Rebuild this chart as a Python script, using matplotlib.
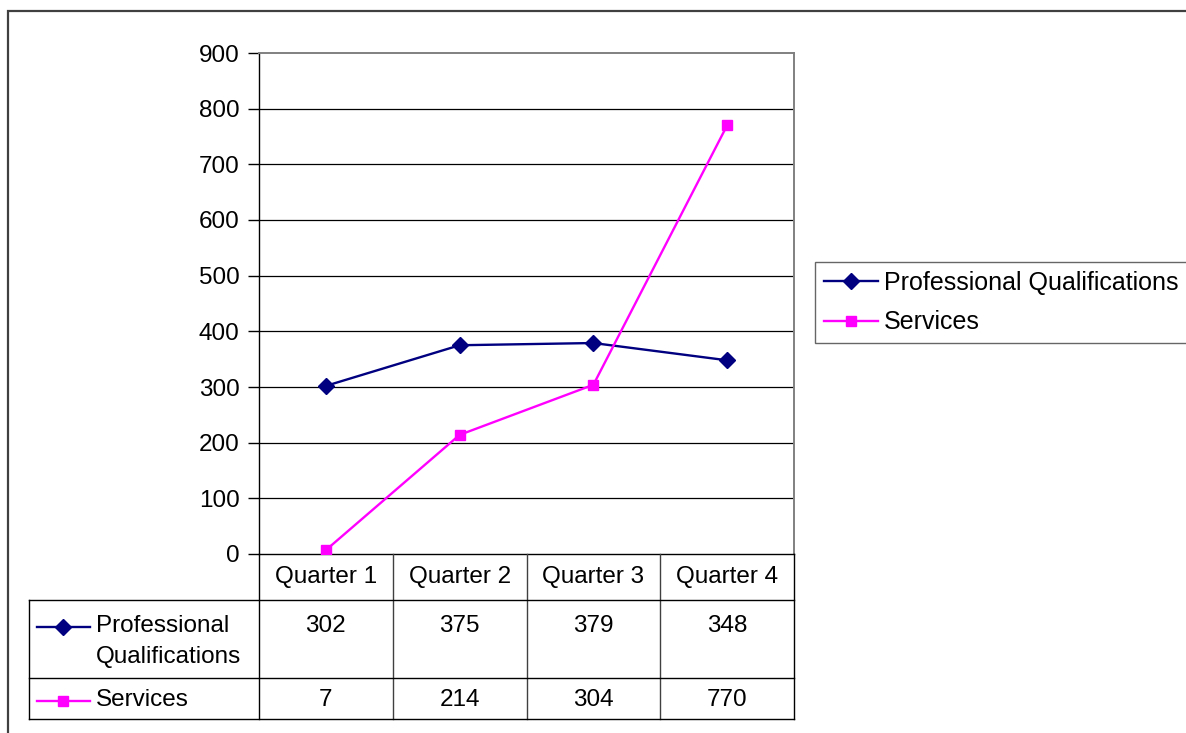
import matplotlib
matplotlib.use("Agg")
import matplotlib.pyplot as plt
import matplotlib.transforms as mtransforms
from matplotlib.lines import Line2D
from matplotlib.patches import Rectangle

plt.rcParams['font.family'] = ['Liberation Sans', 'DejaVu Sans']

quarters = ["Quarter 1", "Quarter 2", "Quarter 3", "Quarter 4"]
prof_quals = [302, 375, 379, 348]
services = [7, 214, 304, 770]
series_names = ["Professional Qualifications", "Services"]
table_names = ["Professional\nQualifications", "Services"]
yticks = [0, 100, 200, 300, 400, 500, 600, 700, 800, 900]

W, H = 1186, 733
FS = 17.5
NAVY = "#000080"
MAGENTA = "#FF00FF"


def fx(x):
    return x / W


def fy(y):
    return 1 - y / H


fig = plt.figure(figsize=(W / 100, H / 100), dpi=100)
fig.patch.set_facecolor("white")

# chart area frame (runs off the right and bottom edges)
fig.patches.append(Rectangle((fx(8), fy(1000)), 1.2, fy(11) - fy(1000),
                             transform=fig.transFigure, fill=False,
                             edgecolor="#404040", linewidth=1.6))

ax = fig.add_axes([fx(259), fy(554), fx(794) - fx(259), fy(53) - fy(554)])
x = list(range(len(quarters)))

ax.plot(x, prof_quals, color=NAVY, lw=1.7, marker="D", ms=8.5,
        mfc=NAVY, mec=NAVY, label=series_names[0], zorder=3)
ax.plot(x, services, color=MAGENTA, lw=1.7, marker="s", ms=7.5,
        mfc=MAGENTA, mec=MAGENTA, label=series_names[1], zorder=3)

ax.set_xlim(-0.5, len(quarters) - 0.5)
ax.set_ylim(0, 900)
ax.set_yticks(yticks)
ax.set_xticks([])
ax.tick_params(axis="y", direction="out", length=8, width=1, labelsize=FS, pad=6)
for v in yticks[1:-1]:
    ax.axhline(v, color="black", lw=0.9, zorder=1)

ax.spines["top"].set_color("#808080")
ax.spines["right"].set_color("#808080")
ax.spines["top"].set_linewidth(1.4)
ax.spines["right"].set_linewidth(1.4)
ax.spines["left"].set_linewidth(1.0)
ax.spines["bottom"].set_linewidth(1.0)

leg = ax.legend(loc="upper left", bbox_to_anchor=(fx(815), fy(262)),
                bbox_transform=fig.transFigure, fontsize=18, frameon=True,
                fancybox=False, edgecolor="#404040", handlelength=2.15,
                handletextpad=0.25, borderpad=0.35, labelspacing=0.62,
                borderaxespad=0)
leg.get_frame().set_linewidth(1.0)

# data table below the plot
bt = mtransforms.blended_transform_factory(ax.transData, fig.transFigure)
ft = fig.transFigure
edges = [i - 0.5 for i in range(len(quarters) + 1)]

def hline(x0, x1, y, color="black"):
    fig.add_artist(Line2D([fx(x0), fx(x1)], [fy(y), fy(y)], transform=ft,
                          color=color, lw=1.0))

for i, e in enumerate(edges):
    color = "#404040" if i in (1, 2, 3) else "black"
    fig.add_artist(Line2D([e, e], [fy(554), fy(719)], transform=bt,
                          color=color, lw=1.0))
hline(29, 794, 600)
hline(29, 794, 678)
hline(29, 794, 719)
fig.add_artist(Line2D([fx(29), fx(29)], [fy(600), fy(719)], transform=ft,
                      color="black", lw=1.0))

for i, q in enumerate(quarters):
    fig.text(i, fy(577), q, transform=bt, ha="center", va="center", fontsize=FS)

rows = [prof_quals, services]
row_y = [625, 699]
styles = [(NAVY, "D", 8.5), (MAGENTA, "s", 7.5)]
for r, (vals, name, yy, (c, m, ms)) in enumerate(zip(rows, table_names, row_y, styles)):
    fig.add_artist(Line2D([fx(37), fx(90)], [fy(yy + 2), fy(yy + 2)],
                          transform=ft, color=c, lw=1.7))
    fig.add_artist(Line2D([fx(63)], [fy(yy + 2)], transform=ft, color=c,
                          marker=m, ms=ms, mfc=c, mec=c, lw=0))
    fig.text(fx(96), fy(yy - 10), name, transform=ft, ha="left", va="top",
             fontsize=FS, linespacing=1.55)
    for i, v in enumerate(vals):
        fig.text(i, fy(yy - 10), str(v), transform=bt, ha="center", va="top",
                 fontsize=FS)

fig.savefig("out.png", dpi=100, facecolor="white")
